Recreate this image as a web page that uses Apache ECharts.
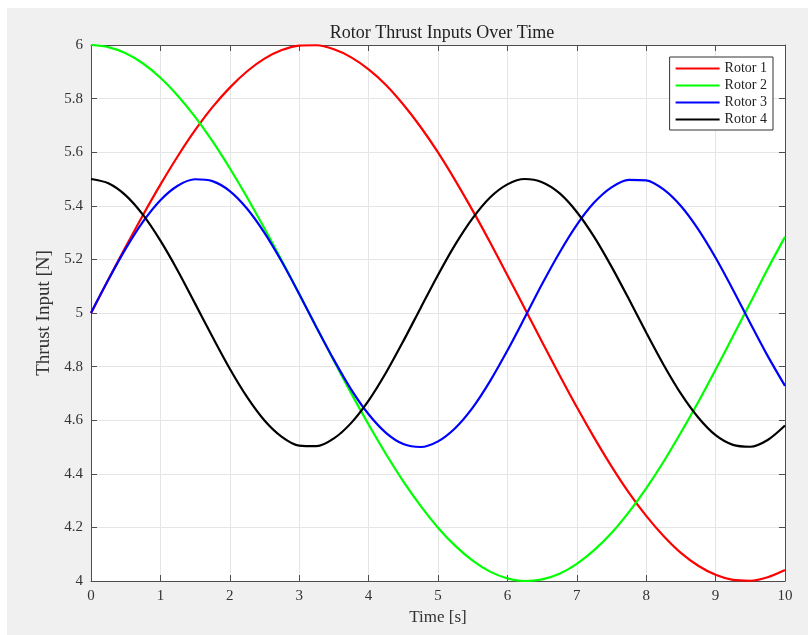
<!DOCTYPE html>
<html>
<head>
<meta charset="utf-8">
<script src="https://cdn.jsdelivr.net/npm/echarts@6/dist/echarts.min.js"></script>
<style>html,body{margin:0;padding:0;background:#fff;}#c{width:808px;height:635px;}</style>
</head>
<body>
<div id="c"></div>
<script>
const time = [0,0.25,0.5,0.75,1,1.25,1.5,1.75,2,2.25,2.5,2.75,3,3.25,3.5,3.75,4,4.25,4.5,4.75,5,5.25,5.5,5.75,6,6.25,6.5,6.75,7,7.25,7.5,7.75,8,8.25,8.5,8.75,9,9.25,9.5,9.75,10];
const rotor1 = [5,5.125,5.247,5.366,5.479,5.585,5.682,5.768,5.841,5.902,5.949,5.981,5.998,5.999,5.984,5.954,5.909,5.851,5.778,5.694,5.599,5.494,5.382,5.264,5.141,5.017,4.892,4.769,4.649,4.535,4.428,4.330,4.243,4.168,4.105,4.057,4.023,4.004,4.001,4.014,4.041];
const rotor2 = [6,5.992,5.969,5.931,5.878,5.811,5.732,5.641,5.540,5.431,5.315,5.195,5.071,4.946,4.822,4.700,4.584,4.474,4.372,4.280,4.199,4.131,4.076,4.035,4.010,4.000,4.006,4.027,4.064,4.115,4.179,4.257,4.346,4.445,4.554,4.668,4.789,4.913,5.038,5.164,5.284];
const rotor3 = [5,5.124,5.240,5.341,5.421,5.475,5.499,5.492,5.455,5.389,5.299,5.191,5.071,4.946,4.825,4.714,4.622,4.553,4.511,4.500,4.521,4.571,4.647,4.746,4.860,4.983,5.108,5.225,5.329,5.412,5.469,5.497,5.495,5.461,5.399,5.312,5.206,5.087,4.962,4.840,4.728];
const rotor4 = [5.5,5.484,5.439,5.366,5.270,5.158,5.035,4.911,4.792,4.686,4.599,4.538,4.505,4.503,4.532,4.590,4.673,4.777,4.895,5.019,5.142,5.256,5.354,5.431,5.480,5.500,5.488,5.447,5.377,5.284,5.173,5.052,4.927,4.807,4.699,4.610,4.544,4.508,4.501,4.526,4.580];
const seriesNames = ['Rotor 1','Rotor 2','Rotor 3','Rotor 4'];
const seriesColors = ['#ff0000','#00ff00','#0000ff','#000000'];
const titleText = 'Rotor Thrust Inputs Over Time';
const xName = 'Time [s]';
const yName = 'Thrust Input [N]';

const FONT = 'Liberation Serif';
const AX = '#4d4d4d';
const pairs = a => time.map((t,i)=>[t,a[i]]);
const data = [rotor1, rotor2, rotor3, rotor4];

const chart = echarts.init(document.getElementById('c'), null, {renderer:'canvas'});
const baseAxis = {
  axisLine:{show:true,onZero:false,lineStyle:{color:AX,width:1}},
  axisTick:{show:true,inside:true,length:6,lineStyle:{color:AX}},
  splitLine:{show:false},
  axisLabel:{show:false}
};
chart.setOption({
  animation:false,
  backgroundColor:'#ffffff',
  textStyle:{fontFamily:FONT},
  graphic:[{type:'rect',z:-10,shape:{x:7,y:8,width:801,height:627},style:{fill:'#f0f0f0'}}],
  title:{text:titleText,left:437,top:19,textAlign:'center',textStyle:{fontFamily:FONT,fontWeight:'normal',fontSize:18,color:'#222'}},
  grid:{left:91,top:45,width:694,height:536,show:true,backgroundColor:'#ffffff',borderWidth:0},
  legend:{
    orient:'vertical',right:35,top:57,
    data:seriesNames,
    backgroundColor:'#ffffff',borderColor:'#333',borderWidth:1,borderRadius:0,
    padding:[4,6,3,6],itemGap:2,itemWidth:44,itemHeight:2,
    icon:'rect',
    textStyle:{fontFamily:FONT,fontSize:14,lineHeight:15,color:'#222',padding:[0,0,0,0]}
  },
  xAxis:[
    Object.assign({},baseAxis,{type:'value',min:0,max:10,interval:1,position:'bottom',
      name:xName,nameLocation:'middle',nameGap:23,nameTextStyle:{fontFamily:FONT,fontSize:17,color:'#333'},
      axisLabel:{show:true,fontFamily:FONT,fontSize:15,color:'#333',margin:8},
      splitLine:{show:true,lineStyle:{color:'#e5e5e5',width:1}}}),
    Object.assign({},baseAxis,{type:'value',min:0,max:10,interval:1,position:'top'})
  ],
  yAxis:[
    Object.assign({},baseAxis,{type:'value',min:4,max:6,interval:0.2,position:'left',
      name:yName,nameLocation:'middle',nameGap:32,nameTextStyle:{fontFamily:FONT,fontSize:19,color:'#333'},
      axisLabel:{show:true,fontFamily:FONT,fontSize:15,color:'#333',margin:8,formatter:v=>String(+v.toFixed(1))},
      splitLine:{show:true,lineStyle:{color:'#e5e5e5',width:1}}}),
    Object.assign({},baseAxis,{type:'value',min:4,max:6,interval:0.2,position:'right'})
  ],
  series:data.map((d,i)=>({
    name:seriesNames[i],type:'line',smooth:0.3,showSymbol:false,symbol:'none',
    data:pairs(d),lineStyle:{color:seriesColors[i],width:2.2},itemStyle:{color:seriesColors[i]},
    xAxisIndex:0,yAxisIndex:0
  }))
});
</script>
</body>
</html>
